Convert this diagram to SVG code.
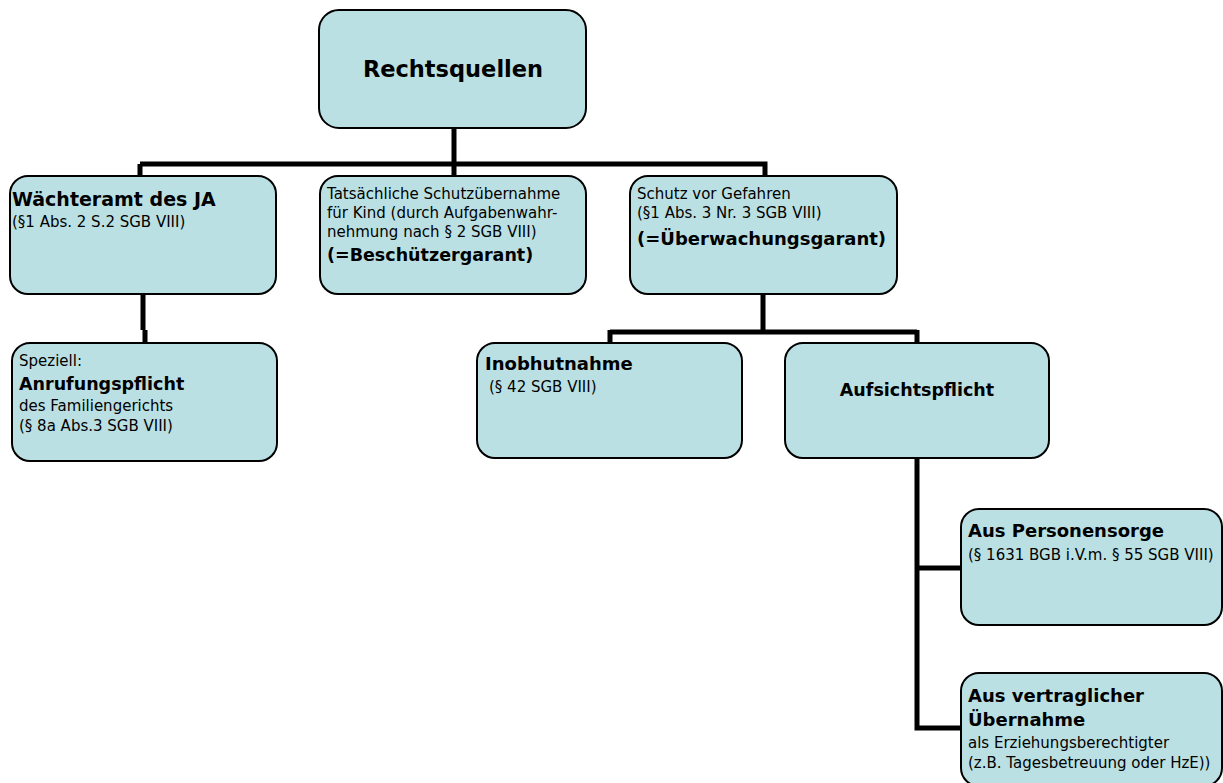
<svg xmlns="http://www.w3.org/2000/svg" width="1223" height="783" viewBox="0 0 1223 783">
<style>
.n{fill:#bbe0e3;stroke:#000;stroke-width:2}
.c{fill:none;stroke:#000;stroke-width:5;stroke-linejoin:miter}
text{font-family:"DejaVu Sans","Liberation Sans",sans-serif;fill:#000}
.b{font-weight:bold;font-size:18px}
.r{font-size:15px}
</style>
<g id="connectors">
<path class="c" d="M454,128 V164 M140,164 H765 V177 M140,164 V177 M454,164 V177"/>
<path class="c" d="M143,294 V330 M145,330 V343"/>
<path class="c" d="M763,294 V332 M610,332 H917 M610,330 V343 M917,330 V343"/>
<path class="c" d="M917,458 V728 H962 M917,568 H962"/>
</g>
<g id="n-rechtsquellen">
<rect class="n" x="319" y="10" width="267" height="118" rx="20"/>
<text class="b" x="453" y="77" style="font-size:22.5px" text-anchor="middle">Rechtsquellen</text>
</g>
<g id="n-waechteramt">
<rect class="n" x="10" y="176" width="266" height="118" rx="18"/>
<text class="b" x="12" y="206" style="font-size:19px">Wächteramt des JA</text>
<text class="r" x="12" y="227">(§1 Abs. 2 S.2 SGB VIII)</text>
</g>
<g id="n-tatsaechliche">
<rect class="n" x="320" y="176" width="266" height="118" rx="18"/>
<text class="r" x="327" y="199">Tatsächliche Schutzübernahme</text>
<text class="r" x="327" y="218">für Kind (durch Aufgabenwahr-</text>
<text class="r" x="327" y="237">nehmung nach § 2 SGB VIII)</text>
<text class="b" x="327" y="261" style="font-size:17.5px">(=Beschützergarant)</text>
</g>
<g id="n-schutz">
<rect class="n" x="630" y="176" width="267" height="118" rx="18"/>
<text class="r" x="637" y="199">Schutz vor Gefahren</text>
<text class="r" x="637" y="218">(§1 Abs. 3 Nr. 3 SGB VIII)</text>
<text class="b" x="637" y="245">(=Überwachungsgarant)</text>
</g>
<g id="n-anrufungspflicht">
<rect class="n" x="12" y="343" width="265" height="118" rx="18"/>
<text class="r" x="19" y="366">Speziell:</text>
<text class="b" x="19" y="390" style="font-size:17.5px">Anrufungspflicht</text>
<text class="r" x="19" y="411">des Familiengerichts</text>
<text class="r" x="19" y="431">(§ 8a Abs.3 SGB VIII)</text>
</g>
<g id="n-inobhutnahme">
<rect class="n" x="477" y="343" width="265" height="115" rx="18"/>
<text class="b" x="485" y="370">Inobhutnahme</text>
<text class="r" x="489" y="392">(§ 42 SGB VIII)</text>
</g>
<g id="n-aufsichtspflicht">
<rect class="n" x="785" y="343" width="264" height="115" rx="18"/>
<text class="b" x="917" y="396" style="font-size:17.5px" text-anchor="middle">Aufsichtspflicht</text>
</g>
<g id="n-personensorge">
<rect class="n" x="961" y="509" width="261" height="116" rx="18"/>
<text class="b" x="968" y="537">Aus Personensorge</text>
<text class="r" x="968" y="560">(§ 1631 BGB i.V.m. § 55 SGB VIII)</text>
</g>
<g id="n-vertraglich">
<rect class="n" x="961" y="673" width="261" height="113" rx="18"/>
<text class="b" x="968" y="702">Aus vertraglicher</text>
<text class="b" x="968" y="726">Übernahme</text>
<text class="r" x="968" y="748">als Erziehungsberechtigter</text>
<text class="r" x="968" y="768">(z.B. Tagesbetreuung oder HzE))</text>
</g>
</svg>
